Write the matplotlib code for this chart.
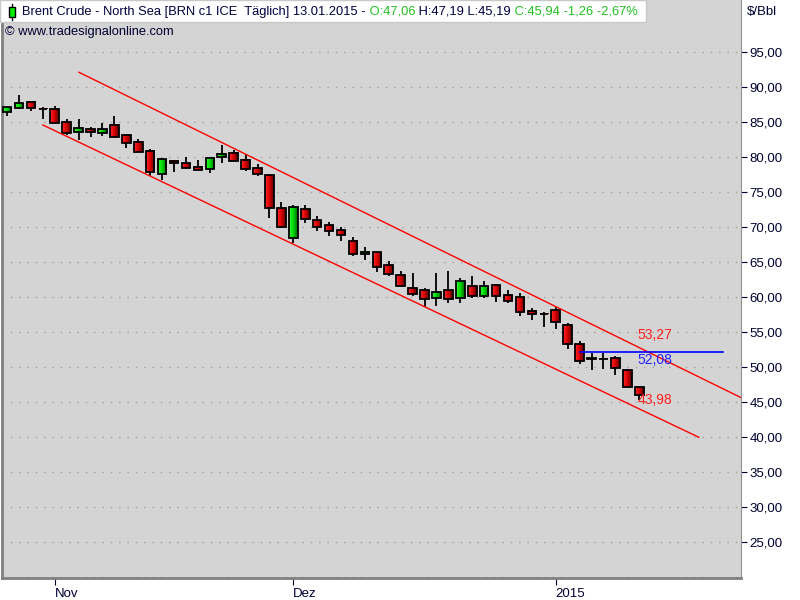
import numpy as np
import pandas as pd
import matplotlib
matplotlib.use("Agg")
import matplotlib.pyplot as plt
from matplotlib.patches import Rectangle
from matplotlib.colors import LinearSegmentedColormap

plt.rcParams["font.family"] = ["Liberation Sans", "DejaVu Sans"]

# trading days shown (ICE Brent, daily)
holidays = ["2014-12-25", "2015-01-01"]
dates = pd.bdate_range("2014-10-28", "2015-01-13").drop(pd.to_datetime(holidays))

opens = [86.42, 86.99, 87.85, 86.92, 86.85, 85.00, 83.64, 83.98, 83.50, 84.56,
         83.13, 82.13, 80.88, 77.63, 79.45, 79.16, 78.55, 78.26, 79.98, 80.59,
         79.59, 78.40, 77.45, 72.68, 68.48, 72.54, 71.01, 70.29, 69.58, 68.00,
         66.10, 66.43, 64.57, 63.14, 61.24, 60.95, 59.89, 60.95, 59.89, 61.57,
         60.18, 61.71, 60.28, 59.99, 57.95, 57.55, 58.13, 55.99, 53.27, 51.20,
         51.10, 51.22, 49.55, 47.06]
highs = [87.32, 88.89, 88.08, 87.13, 87.32, 85.46, 85.46, 84.27, 84.93, 85.89,
         83.31, 82.55, 81.17, 79.92, 79.59, 80.06, 79.59, 80.06, 81.74, 81.02,
         80.41, 79.02, 77.59, 73.58, 73.16, 73.16, 71.58, 70.77, 69.97, 68.62,
         67.10, 66.43, 65.19, 63.71, 63.47, 61.24, 63.43, 63.71, 62.67, 63.00,
         62.28, 61.86, 60.99, 60.52, 58.42, 57.80, 58.61, 56.32, 53.70, 52.03,
         52.03, 51.55, 49.69, 47.19]
lows = [85.93, 86.95, 86.65, 85.46, 84.93, 83.17, 82.45, 82.93, 83.07, 82.84,
        81.35, 80.69, 77.35, 76.73, 77.92, 78.26, 78.10, 77.69, 79.12, 79.41,
        78.02, 77.30, 71.34, 69.82, 67.67, 70.54, 69.48, 68.72, 68.05, 65.90,
        65.33, 63.61, 63.04, 61.38, 60.18, 58.52, 58.70, 59.09, 59.09, 59.81,
        59.81, 59.32, 59.18, 57.32, 56.70, 55.74, 55.42, 52.56, 50.41, 49.55,
        49.69, 48.83, 47.16, 45.19]
closes = [87.13, 87.70, 86.99, 86.86, 84.93, 83.50, 84.13, 83.64, 83.98, 82.84,
          82.07, 80.69, 77.83, 79.73, 79.12, 78.49, 78.12, 79.84, 80.45, 79.41,
          78.26, 77.55, 72.77, 70.05, 72.87, 71.11, 70.05, 69.48, 68.91, 66.10,
          66.43, 64.33, 63.33, 61.61, 60.47, 59.75, 60.71, 59.75, 62.28, 60.18,
          61.57, 60.18, 59.47, 57.89, 57.52, 57.50, 56.46, 53.23, 50.88, 51.15,
          51.06, 49.88, 47.16, 45.94]

# trend channel (bar index, price)
upper_x = [6.03, 62.0]
upper_y = [92.14, 45.20]
lower_x = [3.0, 58.0]
lower_y = [84.60, 39.92]
hline_x = [48.0, 60.0]
hline_value = 52.08
label_values = [53.27, 52.08, 43.98]
label_colors = ["#ff2020", "#2020ff", "#ff2020"]
label_offsets = [1.25, -1.1, 1.28]

y_ticks = list(range(25, 100, 5))
month_labels = {11: "Nov", 12: "Dez", 1: "2015"}

fig = plt.figure(figsize=(8, 6), dpi=100)
ax = fig.add_axes([2 / 800, 22 / 600, 739 / 800, 578 / 600])
ax.set_facecolor("#d4d4d4")

x = np.arange(len(dates))
red_map = LinearSegmentedColormap.from_list("r", ["#ff2a2a", "#d80000", "#5a0000"])
green_map = LinearSegmentedColormap.from_list("g", ["#30ff30", "#00d400", "#006400"])
grad = np.linspace(0, 1, 32).reshape(1, -1)
w = 0.72

ax.vlines(x, lows, highs, color="black", lw=1.3, zorder=2)
for xi, o, c in zip(x, opens, closes):
    lo, hi = min(o, c), max(o, c)
    cmap = green_map if c > o else red_map
    ax.imshow(grad, extent=(xi - w / 2, xi + w / 2, lo, hi), cmap=cmap,
              aspect="auto", interpolation="bilinear", zorder=3)
    ax.add_patch(Rectangle((xi - w / 2, lo), w, hi - lo, facecolor="none",
                           edgecolor="black", lw=1.3, zorder=4))

ax.plot(upper_x, upper_y, color="red", lw=1, zorder=5)
ax.plot(lower_x, lower_y, color="red", lw=1, zorder=5)
ax.plot(hline_x, [hline_value, hline_value], color="blue", lw=1.2, zorder=5)
for v, col, off in zip(label_values, label_colors, label_offsets):
    ax.text(x[-1] - 0.15, v + off, f"{v:.2f}".replace(".", ","), color=col,
            fontsize=10, va="center", ha="left", zorder=6)

# grid
for v in [20] + y_ticks:
    ax.axhline(v, color="#a0a0a0", lw=1, ls=(0, (1, 5)), zorder=1)

ax.set_xlim(-0.42, 61.53)
ax.set_ylim(19.79, 102.48)

ax.yaxis.tick_right()
ax.set_yticks(y_ticks)
ax.set_yticklabels([f"{v:.2f}".replace(".", ",") for v in y_ticks])
ax.tick_params(axis="y", length=4, pad=2, labelsize=9.5, colors="#000030")

month_pos = [i for i in range(1, len(dates)) if dates[i].month != dates[i - 1].month]
ax.set_xticks(month_pos)
ax.set_xticklabels([month_labels[dates[i].month] for i in month_pos], ha="left")
ax.tick_params(axis="x", length=5, pad=2, labelsize=9.5, colors="#000030")

for s in ["left", "bottom"]:
    ax.spines[s].set_color("#808080")
    ax.spines[s].set_linewidth(2)
ax.spines["right"].set_color("#909090")
ax.spines["top"].set_visible(False)

fig.text(747 / 800, 1 - 12 / 600, "$/Bbl", fontsize=9.5, va="center", ha="left", color="#000030")

# header box with title
fig.patches.append(Rectangle((0, 1 - 22 / 600), 646 / 800, 22 / 600, transform=fig.transFigure,
                             facecolor="white", edgecolor="#c8c8c8", lw=1, zorder=10))
fig.patches.append(Rectangle((9 / 800, 1 - 16.7 / 600), 6.3 / 800, 9.4 / 600, transform=fig.transFigure,
                             facecolor="#00ee00", edgecolor="black", lw=1, zorder=12))
fig.lines.append(plt.Line2D([12.2 / 800, 12.2 / 800], [1 - 4 / 600, 1 - 19.5 / 600],
                            transform=fig.transFigure, color="black", lw=1, zorder=11))

pieces = [("Brent Crude - North Sea [BRN c1 ICE  Täglich] 13.01.2015 -", "#000040"),
          (" O:47,06", "#20c020"),
          (" H:47,19 L:45,19", "#000040"),
          (" C:45,94 -1,26 -2,67%", "#20c020")]
renderer = fig.canvas.get_renderer()
px = 22
for txt, col in pieces:
    t = fig.text(px / 800, 1 - 11.5 / 600, txt, fontsize=9.3, color=col, va="center",
                 ha="left", zorder=13)
    px += t.get_window_extent(renderer).width

fig.text(5 / 800, 1 - 31.5 / 600, "© www.tradesignalonline.com", fontsize=9.3,
         color="#000030", va="center", ha="left", zorder=13)

fig.savefig("out.png", dpi=100)
